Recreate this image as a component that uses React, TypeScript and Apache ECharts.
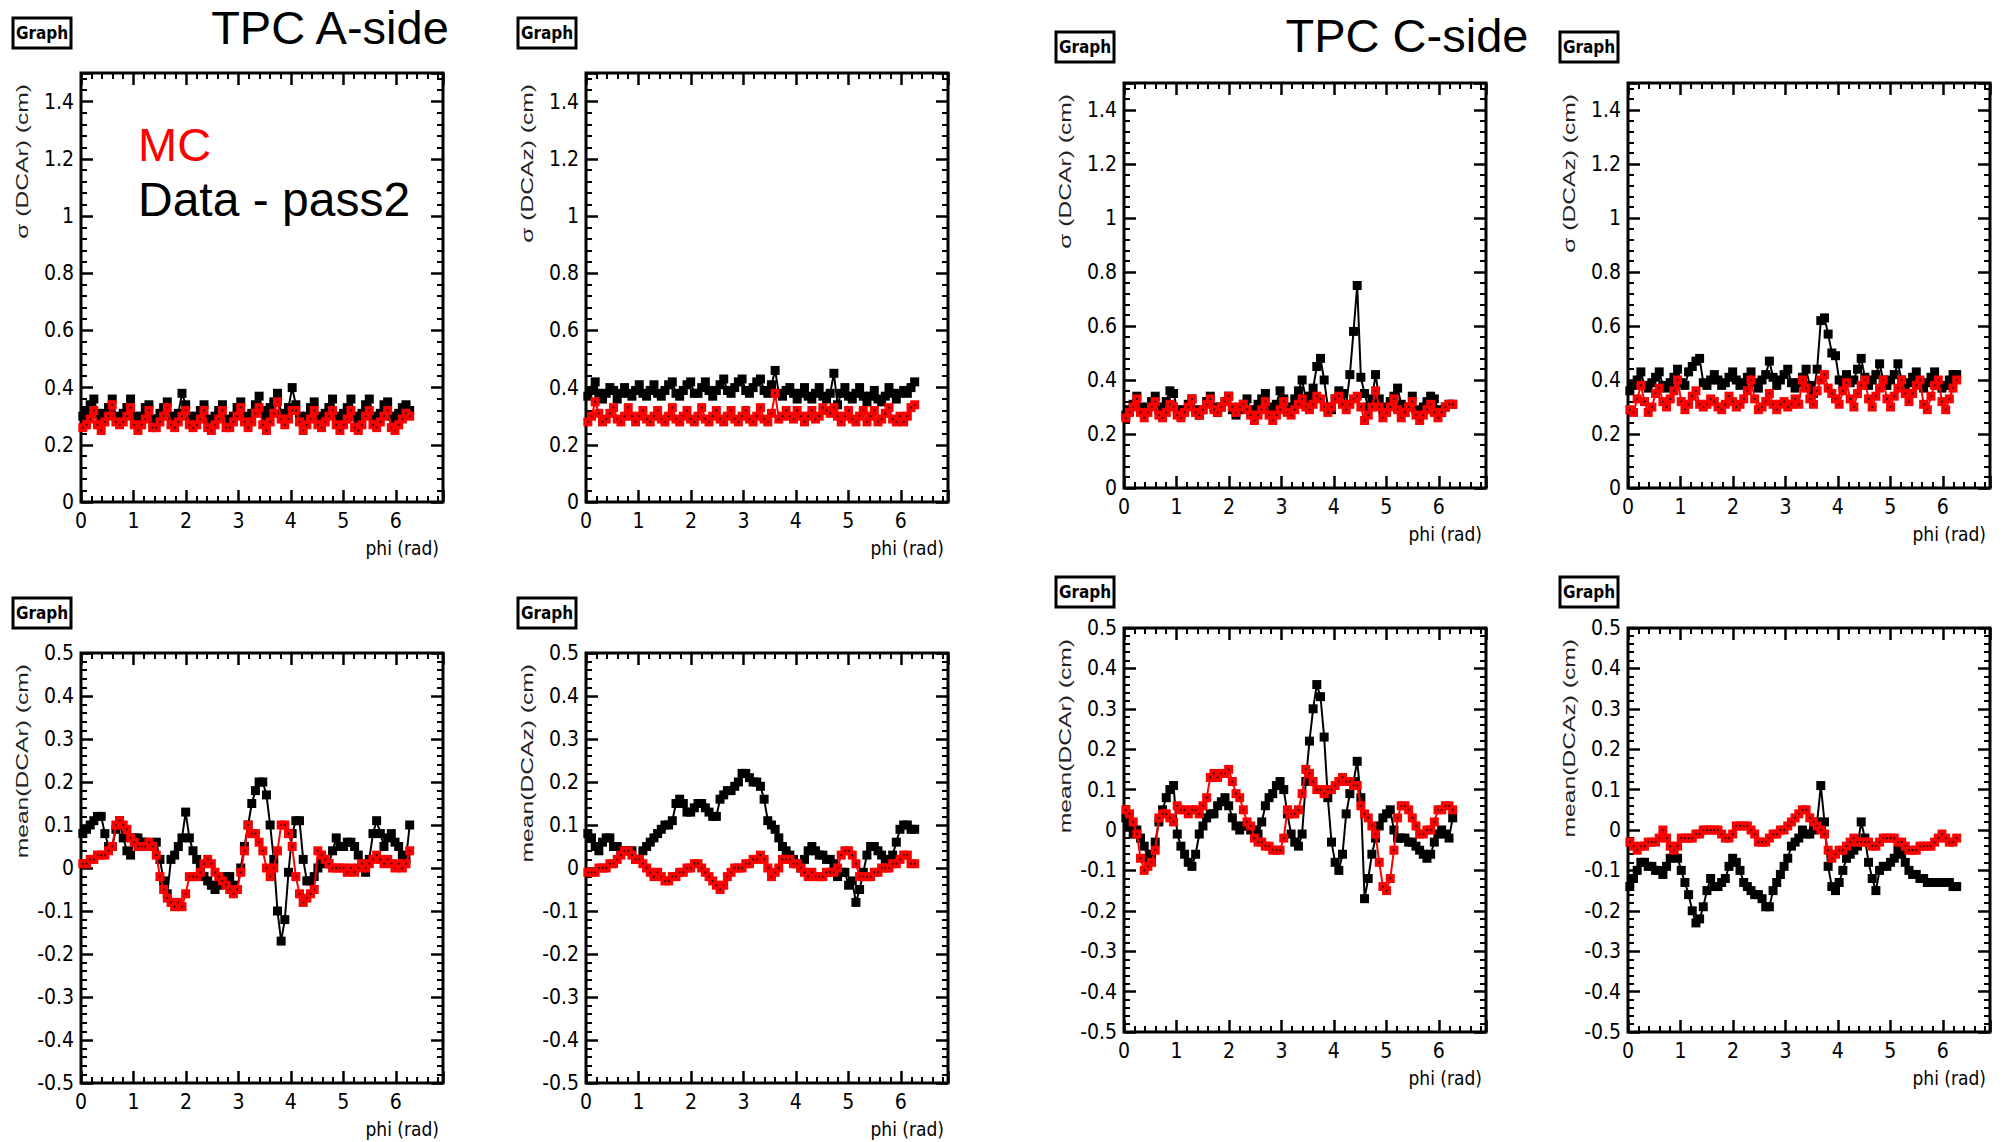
import React, { useEffect, useRef } from "react";
import * as echarts from "echarts";

// phi sample points (bin centres, rad)
const PHI: number[] = Array.from({ length: 90 }, (_, i) => Math.round((0.035 + 0.07 * i) * 1000) / 1000);

const X_TICKS = [0, 1, 2, 3, 4, 5, 6];
const Y_SIGMA_TICKS = [0, 0.2, 0.4, 0.6, 0.8, 1, 1.2, 1.4];
const Y_MEAN_TICKS = [-0.5, -0.4, -0.3, -0.2, -0.1, 0, 0.1, 0.2, 0.3, 0.4, 0.5];

// ---- TPC A-side ----
const SIG_R_A_DATA = [
  0.30, 0.32, 0.34, 0.36, 0.31, 0.29, 0.31, 0.33, 0.36, 0.30,
  0.29, 0.31, 0.33, 0.36, 0.30, 0.28, 0.30, 0.33, 0.34, 0.29,
  0.29, 0.31, 0.33, 0.35, 0.30, 0.29, 0.31, 0.38, 0.34, 0.30,
  0.28, 0.30, 0.32, 0.34, 0.29, 0.28, 0.30, 0.32, 0.34, 0.29,
  0.28, 0.30, 0.33, 0.35, 0.30, 0.29, 0.31, 0.34, 0.37, 0.32,
  0.30, 0.33, 0.35, 0.38, 0.31, 0.30, 0.33, 0.40, 0.34, 0.30,
  0.28, 0.30, 0.33, 0.35, 0.30, 0.29, 0.31, 0.33, 0.36, 0.30,
  0.28, 0.31, 0.33, 0.36, 0.30, 0.29, 0.31, 0.34, 0.36, 0.30,
  0.29, 0.31, 0.34, 0.35, 0.30, 0.29, 0.31, 0.33, 0.34, 0.32,
];
const SIG_R_A_MC = [
  0.26, 0.27, 0.29, 0.32, 0.27, 0.25, 0.28, 0.30, 0.34, 0.28,
  0.27, 0.28, 0.30, 0.33, 0.27, 0.25, 0.27, 0.29, 0.32, 0.26,
  0.26, 0.28, 0.30, 0.33, 0.27, 0.26, 0.28, 0.30, 0.32, 0.27,
  0.26, 0.27, 0.29, 0.32, 0.26, 0.25, 0.27, 0.29, 0.32, 0.26,
  0.26, 0.28, 0.30, 0.33, 0.28, 0.26, 0.28, 0.31, 0.33, 0.27,
  0.25, 0.28, 0.31, 0.35, 0.29, 0.27, 0.29, 0.32, 0.32, 0.28,
  0.25, 0.27, 0.29, 0.32, 0.27, 0.26, 0.28, 0.30, 0.32, 0.27,
  0.25, 0.27, 0.29, 0.32, 0.26, 0.25, 0.27, 0.30, 0.32, 0.27,
  0.26, 0.28, 0.30, 0.32, 0.26, 0.25, 0.27, 0.29, 0.31, 0.30,
];
const SIG_Z_A_DATA = [
  0.37, 0.39, 0.42, 0.38, 0.36, 0.38, 0.40, 0.39, 0.36, 0.38,
  0.40, 0.38, 0.37, 0.39, 0.41, 0.38, 0.37, 0.39, 0.41, 0.38,
  0.37, 0.39, 0.41, 0.42, 0.38, 0.37, 0.39, 0.41, 0.42, 0.38,
  0.38, 0.40, 0.42, 0.39, 0.37, 0.39, 0.41, 0.43, 0.39, 0.38,
  0.40, 0.42, 0.43, 0.39, 0.38, 0.40, 0.42, 0.43, 0.39, 0.38,
  0.41, 0.46, 0.38, 0.37, 0.39, 0.40, 0.38, 0.36, 0.38, 0.40,
  0.37, 0.36, 0.38, 0.40, 0.37, 0.36, 0.38, 0.45, 0.34, 0.38,
  0.40, 0.37, 0.36, 0.38, 0.40, 0.37, 0.35, 0.37, 0.39, 0.36,
  0.35, 0.37, 0.40, 0.38, 0.36, 0.38, 0.39, 0.38, 0.40, 0.42,
];
const SIG_Z_A_MC = [
  0.28, 0.30, 0.35, 0.31, 0.28, 0.29, 0.31, 0.33, 0.29, 0.28,
  0.30, 0.33, 0.30, 0.28, 0.30, 0.32, 0.29, 0.28, 0.30, 0.32,
  0.29, 0.28, 0.30, 0.33, 0.29, 0.28, 0.30, 0.32, 0.29, 0.28,
  0.30, 0.33, 0.29, 0.28, 0.30, 0.32, 0.29, 0.28, 0.30, 0.32,
  0.29, 0.28, 0.30, 0.32, 0.29, 0.28, 0.30, 0.33, 0.29, 0.28,
  0.31, 0.38, 0.29, 0.30, 0.32, 0.30, 0.29, 0.32, 0.30, 0.28,
  0.30, 0.32, 0.29, 0.30, 0.33, 0.32, 0.31, 0.33, 0.30, 0.28,
  0.30, 0.32, 0.29, 0.28, 0.30, 0.32, 0.28, 0.30, 0.32, 0.28,
  0.29, 0.31, 0.33, 0.29, 0.28, 0.30, 0.28, 0.30, 0.33, 0.34,
];
const MEAN_R_A_DATA = [
  0.08, 0.09, 0.10, 0.11, 0.12, 0.12, 0.08, 0.05, 0.05, 0.09,
  0.11, 0.07, 0.04, 0.03, 0.07, 0.07, 0.06, 0.06, 0.05, 0.05,
  0.06, 0.02, -0.03, -0.06, 0.02, 0.03, 0.05, 0.07, 0.13, 0.07,
  0.04, 0.02, 0.00, -0.02, -0.03, -0.04, -0.05, -0.04, -0.03, -0.02,
  -0.02, -0.04, -0.05, 0.00, 0.05, 0.10, 0.15, 0.18, 0.20, 0.20,
  0.17, 0.10, 0.02, -0.10, -0.17, -0.12, -0.01, 0.08, 0.11, 0.11,
  0.02, -0.03, -0.03, -0.02, 0.00, 0.02, 0.01, 0.01, 0.04, 0.07,
  0.05, 0.05, 0.06, 0.06, 0.05, 0.03, 0.01, -0.01, 0.02, 0.08,
  0.11, 0.08, 0.05, 0.07, 0.08, 0.06, 0.05, 0.03, 0.02, 0.10,
];
const MEAN_R_A_MC = [
  0.01, 0.01, 0.02, 0.02, 0.03, 0.03, 0.03, 0.04, 0.05, 0.10,
  0.11, 0.10, 0.09, 0.07, 0.06, 0.05, 0.05, 0.05, 0.06, 0.05,
  0.03, -0.02, -0.05, -0.07, -0.08, -0.09, -0.08, -0.09, -0.06, -0.02,
  -0.02, -0.02, -0.01, 0.01, 0.02, 0.01, -0.01, -0.02, -0.03, -0.04,
  -0.05, -0.06, -0.05, -0.01, 0.04, 0.10, 0.08, 0.08, 0.06, 0.04,
  0.00, -0.02, 0.00, 0.04, 0.10, 0.10, 0.08, 0.05, -0.02, -0.06,
  -0.08, -0.07, -0.06, -0.05, 0.04, 0.03, 0.02, 0.01, 0.00, 0.00,
  0.00, 0.00, -0.01, 0.00, -0.01, 0.00, 0.01, 0.00, 0.01, 0.02,
  0.03, 0.02, 0.01, 0.02, 0.01, 0.00, 0.01, 0.00, 0.01, 0.04,
];
const MEAN_Z_A_DATA = [
  0.08, 0.07, 0.05, 0.04, 0.06, 0.07, 0.07, 0.05, 0.05, 0.04,
  0.04, 0.04, 0.04, 0.02, 0.02, 0.04, 0.05, 0.06, 0.07, 0.08,
  0.09, 0.10, 0.10, 0.11, 0.15, 0.16, 0.15, 0.13, 0.13, 0.14,
  0.15, 0.15, 0.14, 0.13, 0.12, 0.12, 0.16, 0.17, 0.18, 0.18,
  0.19, 0.20, 0.22, 0.22, 0.21, 0.20, 0.20, 0.19, 0.16, 0.11,
  0.10, 0.09, 0.07, 0.05, 0.04, 0.03, 0.02, 0.01, 0.00, 0.02,
  0.04, 0.05, 0.04, 0.03, 0.03, 0.02, 0.02, 0.01, -0.02, -0.01,
  -0.01, -0.04, -0.03, -0.08, -0.05, -0.01, 0.03, 0.05, 0.05, 0.04,
  0.03, 0.02, 0.01, 0.03, 0.06, 0.09, 0.10, 0.10, 0.09, 0.09,
];
const MEAN_Z_A_MC = [
  -0.01, -0.01, -0.01, 0.00, 0.00, 0.00, 0.01, 0.01, 0.02, 0.03,
  0.04, 0.04, 0.03, 0.02, 0.02, 0.01, 0.00, -0.01, -0.02, -0.01,
  -0.02, -0.03, -0.03, -0.02, -0.02, -0.01, -0.01, 0.00, 0.00, 0.01,
  0.01, 0.00, -0.01, -0.02, -0.03, -0.04, -0.05, -0.04, -0.02, -0.01,
  0.00, 0.00, 0.00, 0.01, 0.01, 0.02, 0.02, 0.03, 0.02, 0.00,
  -0.02, -0.01, 0.00, 0.02, 0.02, 0.02, 0.01, 0.01, 0.00, -0.01,
  -0.02, -0.01, -0.02, -0.02, -0.02, -0.01, -0.01, -0.01, 0.00, 0.03,
  0.04, 0.04, 0.03, 0.01, -0.02, -0.02, -0.02, -0.02, -0.01, -0.01,
  0.00, 0.00, 0.00, 0.01, 0.01, 0.02, 0.03, 0.03, 0.01, 0.01,
];

// ---- TPC C-side ----
const SIG_R_C_DATA = [
  0.27, 0.29, 0.31, 0.34, 0.30, 0.28, 0.30, 0.32, 0.34, 0.29,
  0.30, 0.32, 0.36, 0.35, 0.29, 0.27, 0.29, 0.31, 0.33, 0.29,
  0.27, 0.29, 0.32, 0.34, 0.30, 0.28, 0.30, 0.32, 0.34, 0.29,
  0.27, 0.29, 0.31, 0.33, 0.28, 0.29, 0.31, 0.33, 0.35, 0.30,
  0.29, 0.31, 0.36, 0.33, 0.29, 0.30, 0.33, 0.36, 0.40, 0.33,
  0.34, 0.37, 0.45, 0.48, 0.40, 0.30, 0.29, 0.33, 0.36, 0.35,
  0.31, 0.42, 0.58, 0.75, 0.41, 0.35, 0.30, 0.33, 0.42, 0.33,
  0.29, 0.30, 0.32, 0.34, 0.37, 0.31, 0.28, 0.30, 0.34, 0.29,
  0.28, 0.30, 0.32, 0.34, 0.33, 0.29, 0.28, 0.30, 0.31, 0.31,
];
const SIG_R_C_MC = [
  0.26, 0.28, 0.30, 0.33, 0.28, 0.26, 0.28, 0.30, 0.32, 0.27,
  0.26, 0.28, 0.31, 0.30, 0.27, 0.26, 0.28, 0.30, 0.33, 0.28,
  0.27, 0.29, 0.31, 0.33, 0.29, 0.28, 0.30, 0.32, 0.34, 0.30,
  0.28, 0.30, 0.31, 0.29, 0.27, 0.25, 0.27, 0.29, 0.32, 0.27,
  0.25, 0.27, 0.29, 0.32, 0.28, 0.27, 0.29, 0.31, 0.33, 0.30,
  0.29, 0.31, 0.34, 0.33, 0.30, 0.28, 0.30, 0.33, 0.34, 0.31,
  0.29, 0.31, 0.33, 0.34, 0.30, 0.25, 0.27, 0.30, 0.36, 0.30,
  0.26, 0.28, 0.30, 0.33, 0.29, 0.26, 0.28, 0.30, 0.32, 0.27,
  0.25, 0.27, 0.29, 0.31, 0.28, 0.26, 0.28, 0.30, 0.31, 0.31,
];
const SIG_Z_C_DATA = [
  0.36, 0.38, 0.40, 0.43, 0.38, 0.37, 0.39, 0.41, 0.43, 0.38,
  0.37, 0.39, 0.41, 0.44, 0.39, 0.38, 0.43, 0.45, 0.47, 0.48,
  0.39, 0.38, 0.40, 0.42, 0.40, 0.38, 0.39, 0.41, 0.43, 0.40,
  0.38, 0.39, 0.41, 0.43, 0.39, 0.37, 0.40, 0.42, 0.47, 0.41,
  0.38, 0.40, 0.42, 0.44, 0.39, 0.37, 0.39, 0.41, 0.44, 0.38,
  0.35, 0.44, 0.62, 0.63, 0.57, 0.50, 0.49, 0.40, 0.38, 0.42,
  0.39, 0.40, 0.44, 0.48, 0.41, 0.38, 0.40, 0.42, 0.46, 0.40,
  0.38, 0.40, 0.42, 0.46, 0.40, 0.38, 0.39, 0.41, 0.43, 0.39,
  0.37, 0.39, 0.41, 0.43, 0.38, 0.37, 0.38, 0.40, 0.42, 0.42,
];
const SIG_Z_C_MC = [
  0.29, 0.28, 0.33, 0.38, 0.32, 0.28, 0.30, 0.35, 0.37, 0.32,
  0.30, 0.33, 0.36, 0.40, 0.32, 0.29, 0.31, 0.34, 0.36, 0.31,
  0.30, 0.31, 0.33, 0.32, 0.30, 0.29, 0.31, 0.34, 0.32, 0.30,
  0.31, 0.33, 0.36, 0.40, 0.33, 0.29, 0.30, 0.32, 0.35, 0.31,
  0.29, 0.31, 0.32, 0.30, 0.31, 0.33, 0.31, 0.40, 0.37, 0.33,
  0.31, 0.36, 0.40, 0.42, 0.37, 0.35, 0.33, 0.31, 0.36, 0.39,
  0.33, 0.30, 0.35, 0.38, 0.40, 0.33, 0.30, 0.34, 0.37, 0.40,
  0.33, 0.30, 0.34, 0.37, 0.40, 0.35, 0.32, 0.35, 0.38, 0.40,
  0.31, 0.29, 0.34, 0.38, 0.40, 0.32, 0.29, 0.33, 0.37, 0.40,
];
const MEAN_R_C_DATA = [
  0.03, 0.01, -0.01, 0.00, -0.02, -0.04, -0.07, -0.06, -0.03, 0.02,
  0.05, 0.08, 0.10, 0.11, -0.01, -0.04, -0.06, -0.08, -0.09, -0.06,
  -0.01, 0.01, 0.03, 0.04, 0.04, 0.06, 0.07, 0.08, 0.06, 0.03,
  0.01, 0.00, 0.01, 0.01, 0.00, 0.00, -0.01, 0.02, 0.06, 0.08,
  0.09, 0.11, 0.12, 0.10, 0.04, -0.01, -0.03, -0.04, -0.01, 0.12,
  0.22, 0.30, 0.36, 0.33, 0.23, 0.08, -0.03, -0.08, -0.10, -0.06,
  0.04, 0.09, 0.12, 0.17, 0.08, -0.17, -0.12, -0.06, -0.02, 0.01,
  0.03, 0.04, 0.05, 0.00, -0.02, -0.02, -0.02, -0.03, -0.03, -0.04,
  -0.05, -0.06, -0.07, -0.06, -0.03, -0.01, 0.00, -0.01, -0.02, 0.03,
];
const MEAN_R_C_MC = [
  0.05, 0.04, 0.02, -0.01, -0.07, -0.10, -0.09, -0.08, -0.05, 0.03,
  0.04, 0.04, 0.03, 0.02, 0.06, 0.05, 0.05, 0.04, 0.05, 0.05,
  0.04, 0.06, 0.08, 0.13, 0.14, 0.13, 0.14, 0.14, 0.15, 0.12,
  0.09, 0.08, 0.05, 0.02, 0.01, -0.02, -0.03, -0.03, -0.04, -0.04,
  -0.05, -0.05, -0.05, -0.02, 0.05, 0.04, 0.04, 0.05, 0.09, 0.15,
  0.14, 0.12, 0.10, 0.10, 0.09, 0.10, 0.10, 0.11, 0.12, 0.13,
  0.12, 0.12, 0.11, 0.11, 0.06, 0.04, 0.03, 0.01, -0.01, -0.08,
  -0.14, -0.15, -0.12, -0.05, 0.03, 0.06, 0.06, 0.05, 0.03, 0.01,
  -0.01, -0.01, 0.00, 0.00, 0.02, 0.05, 0.05, 0.06, 0.06, 0.05,
];
const MEAN_Z_C_DATA = [
  -0.14, -0.12, -0.10, -0.08, -0.08, -0.09, -0.09, -0.10, -0.10, -0.11,
  -0.09, -0.07, -0.06, -0.07, -0.10, -0.13, -0.16, -0.20, -0.23, -0.22,
  -0.19, -0.15, -0.12, -0.14, -0.14, -0.13, -0.12, -0.09, -0.07, -0.08,
  -0.10, -0.13, -0.14, -0.15, -0.16, -0.16, -0.17, -0.19, -0.19, -0.15,
  -0.13, -0.11, -0.09, -0.07, -0.04, -0.03, -0.02, 0.00, -0.01, -0.01,
  0.00, 0.02, 0.11, 0.02, -0.09, -0.14, -0.15, -0.13, -0.10, -0.07,
  -0.06, -0.05, -0.04, 0.02, -0.02, -0.08, -0.12, -0.15, -0.10, -0.09,
  -0.09, -0.08, -0.07, -0.05, -0.06, -0.08, -0.10, -0.11, -0.11, -0.12,
  -0.12, -0.13, -0.13, -0.13, -0.13, -0.13, -0.13, -0.13, -0.14, -0.14,
];
const MEAN_Z_C_MC = [
  -0.03, -0.04, -0.05, -0.04, -0.04, -0.03, -0.03, -0.03, -0.02, 0.00,
  -0.02, -0.04, -0.05, -0.04, -0.02, -0.02, -0.02, -0.02, -0.01, -0.01,
  0.00, 0.00, 0.00, 0.00, 0.00, -0.01, -0.02, -0.02, -0.01, 0.01,
  0.01, 0.01, 0.01, 0.00, -0.01, -0.03, -0.03, -0.03, -0.02, -0.01,
  -0.01, 0.00, 0.00, 0.01, 0.02, 0.03, 0.04, 0.05, 0.05, 0.03,
  0.02, 0.01, 0.00, -0.01, -0.05, -0.07, -0.06, -0.05, -0.05, -0.04,
  -0.03, -0.02, -0.03, -0.03, -0.03, -0.03, -0.04, -0.04, -0.03, -0.02,
  -0.02, -0.02, -0.02, -0.03, -0.03, -0.04, -0.05, -0.05, -0.05, -0.04,
  -0.04, -0.04, -0.04, -0.03, -0.02, -0.01, -0.02, -0.03, -0.03, -0.02,
];

const NARROW = "'Liberation Sans Narrow','DejaVu Sans Condensed','Arial Narrow',sans-serif";
const SANS = "'Liberation Sans',Arial,Helvetica,sans-serif";

type Panel = {
  left: number; top: number; width: number; height: number;
  kind: "sigma" | "mean"; yName: string; data: number[]; mc: number[];
};

const PANELS: Panel[] = [
  { left: 81, top: 73, width: 362, height: 429, kind: "sigma", yName: "σ (DCAr) (cm)", data: SIG_R_A_DATA, mc: SIG_R_A_MC },
  { left: 586, top: 73, width: 362, height: 429, kind: "sigma", yName: "σ (DCAz) (cm)", data: SIG_Z_A_DATA, mc: SIG_Z_A_MC },
  { left: 1124, top: 83, width: 362, height: 405, kind: "sigma", yName: "σ (DCAr) (cm)", data: SIG_R_C_DATA, mc: SIG_R_C_MC },
  { left: 1628, top: 83, width: 362, height: 405, kind: "sigma", yName: "σ (DCAz) (cm)", data: SIG_Z_C_DATA, mc: SIG_Z_C_MC },
  { left: 81, top: 653, width: 362, height: 430, kind: "mean", yName: "mean(DCAr) (cm)", data: MEAN_R_A_DATA, mc: MEAN_R_A_MC },
  { left: 586, top: 653, width: 362, height: 430, kind: "mean", yName: "mean(DCAz) (cm)", data: MEAN_Z_A_DATA, mc: MEAN_Z_A_MC },
  { left: 1124, top: 628, width: 362, height: 404, kind: "mean", yName: "mean(DCAr) (cm)", data: MEAN_R_C_DATA, mc: MEAN_R_C_MC },
  { left: 1628, top: 628, width: 362, height: 404, kind: "mean", yName: "mean(DCAz) (cm)", data: MEAN_Z_C_DATA, mc: MEAN_Z_C_MC },
];

function near(v: number, list: number[]) {
  return list.some((t) => Math.abs(t - v) < 1e-6);
}

function buildOption() {
  const grids: any[] = [];
  const xAxes: any[] = [];
  const yAxes: any[] = [];
  const series: any[] = [];
  const graphics: any[] = [];

  const tick = { show: true, inside: true, length: 12, lineStyle: { color: "#000", width: 2.5 } };
  const minor = { show: true, splitNumber: 5, length: 6, lineStyle: { color: "#000", width: 2 } };
  const noLine = { show: false, onZero: false };

  PANELS.forEach((p, g) => {
    grids.push({ left: p.left, top: p.top, width: p.width, height: p.height, show: true, borderColor: "#000", borderWidth: 3, backgroundColor: "#fff" });
    const xBase = {
      gridIndex: g, type: "value", min: 0, max: 6.9, interval: 1,
      axisLine: noLine, axisTick: tick, minorTick: minor,
      splitLine: { show: false }, minorSplitLine: { show: false },
    };
    xAxes.push({
      ...xBase, position: "bottom",
      axisLabel: {
        show: true, color: "#000", fontSize: 21, fontFamily: NARROW, margin: 8,
        formatter: (v: number) => (near(v, X_TICKS) ? String(Math.round(v)) : ""),
      },
    });
    xAxes.push({ ...xBase, position: "top", axisLabel: { show: false } });

    const isSig = p.kind === "sigma";
    const yBase = {
      gridIndex: g, type: "value",
      min: isSig ? 0 : -0.5, max: isSig ? 1.5 : 0.5, interval: isSig ? 0.2 : 0.1,
      axisLine: noLine, axisTick: tick, minorTick: minor,
      splitLine: { show: false }, minorSplitLine: { show: false },
    };
    const ticks = isSig ? Y_SIGMA_TICKS : Y_MEAN_TICKS;
    yAxes.push({
      ...yBase, position: "left",
      axisLabel: {
        show: true, color: "#000", fontSize: 21, fontFamily: NARROW, margin: 7,
        formatter: (v: number) => (near(v, ticks) ? String(Math.round(v * 10) / 10) : ""),
      },
    });
    yAxes.push({ ...yBase, position: "right", axisLabel: { show: false } });

    series.push({
      type: "line", xAxisIndex: 2 * g, yAxisIndex: 2 * g, silent: true,
      data: PHI.map((x, i) => [x, p.data[i]]),
      symbol: "rect", symbolSize: 9, showSymbol: true,
      lineStyle: { color: "#000", width: 2 }, itemStyle: { color: "#000" }, z: 3,
    });
    series.push({
      type: "line", xAxisIndex: 2 * g, yAxisIndex: 2 * g, silent: true,
      data: PHI.map((x, i) => [x, p.mc[i]]),
      symbol: "rect", symbolSize: 9, showSymbol: true,
      lineStyle: { color: "#ff0000", width: 2 }, itemStyle: { color: "#ff0000" }, z: 4,
    });
    series.push({
      type: "scatter", xAxisIndex: 2 * g, yAxisIndex: 2 * g, silent: true,
      data: PHI.map((x, i) => [x, p.mc[i]]),
      symbol: "circle", symbolSize: 2, itemStyle: { color: "#000" }, z: 5,
    });

    // "Graph" box
    const bx = p.left - 68;
    const by = p.top - (g === 2 || g === 3 || g === 6 || g === 7 ? 51 : 55);
    graphics.push({ type: "rect", shape: { x: bx, y: by, width: 58, height: 30 }, style: { fill: "#fff", stroke: "#000", lineWidth: 3 } });
    graphics.push({ type: "text", x: bx + 29, y: by + 15, style: { text: "Graph", font: `bold 17px ${NARROW}`, fill: "#000", align: "center", verticalAlign: "middle" } });
    // y-axis title (stretched along its reading direction, as in the original)
    graphics.push({ type: "text", x: p.left - 59, y: p.top + 11, rotation: Math.PI / 2, scaleX: 1.45, style: { text: p.yName, font: `17px ${SANS}`, fill: "#222", align: "right", verticalAlign: "middle" } });
    // x-axis title
    graphics.push({ type: "text", x: p.left + p.width - 4, y: p.top + p.height + 46, style: { text: "phi (rad)", font: `19px ${NARROW}`, fill: "#000", align: "right", verticalAlign: "middle" } });
  });

  graphics.push({ type: "text", x: 330, y: 27, style: { text: "TPC A-side", font: `47px ${SANS}`, fill: "#000", align: "center", verticalAlign: "middle" } });
  graphics.push({ type: "text", x: 1407, y: 35, style: { text: "TPC C-side", font: `47px ${SANS}`, fill: "#000", align: "center", verticalAlign: "middle" } });
  graphics.push({ type: "text", x: 138, y: 144, style: { text: "MC", font: `47px ${SANS}`, fill: "#ff0000", align: "left", verticalAlign: "middle" } });
  graphics.push({ type: "text", x: 138, y: 199, style: { text: "Data - pass2", font: `48px ${SANS}`, fill: "#000", align: "left", verticalAlign: "middle" } });

  return {
    animation: false,
    backgroundColor: "#fff",
    grid: grids,
    xAxis: xAxes,
    yAxis: yAxes,
    series,
    graphic: { elements: graphics.map((e) => ({ ...e, z: 100 })) },
  };
}

export default function App() {
  const ref = useRef<HTMLDivElement>(null);
  useEffect(() => {
    if (!ref.current) return;
    const chart = echarts.init(ref.current, undefined, { renderer: "svg" });
    chart.setOption(buildOption() as any);
    return () => chart.dispose();
  }, []);
  return <div ref={ref} style={{ position: "absolute", left: 0, top: 0, width: 2007, height: 1142, background: "#fff" }} />;
}
